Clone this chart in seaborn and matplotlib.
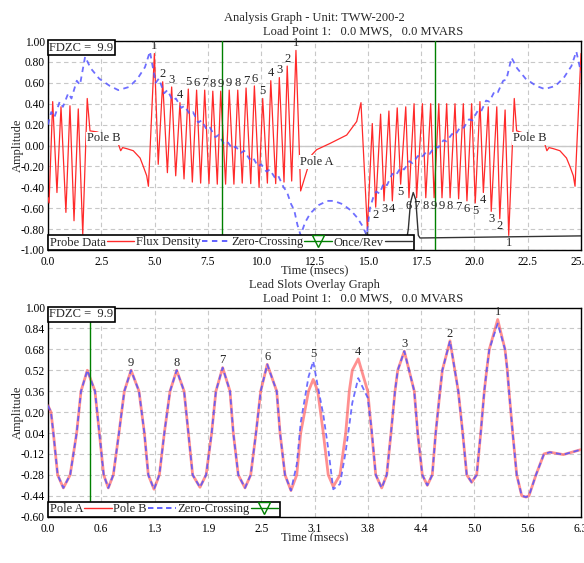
import numpy as np
import pandas as pd
import matplotlib
matplotlib.use("Agg")
import matplotlib.pyplot as plt
import seaborn as sns
from matplotlib.lines import Line2D
from matplotlib.patches import Rectangle

# ---------------- top chart data (Analysis Graph) ----------------
# lead-in of previous pole B and pole-B tail shape
tail_start_t = [0.00, 0.05, 0.22, 0.42, 0.61, 0.84, 1.03, 1.22, 1.42, 1.63, 1.84, 1.97, 2.30,
                3.22, 3.41, 3.50, 3.69, 4.00, 4.32, 4.47, 4.63, 4.71]
tail_start_v = [-0.50, -0.55, 0.42, -0.45, 0.37, -0.64, 0.38, -0.72, 0.35, -0.85, 0.45, 0.14, 0.13,
                0.06, -0.05, -0.02, -0.03, -0.05, -0.12, -0.20, -0.29, -0.39]
# pole A slot peaks (labelled) and the troughs between them
pole_a_peak_t = [4.99, 5.38, 5.80, 6.19, 6.58, 6.97, 7.35, 7.73, 8.10,
                 8.50, 8.90, 9.29, 9.68, 10.07, 10.45, 10.85, 11.22, 11.63]
pole_a_peak_v = [0.88, 0.61, 0.56, 0.41, 0.54, 0.53, 0.53, 0.52, 0.52,
                 0.53, 0.53, 0.55, 0.57, 0.45, 0.62, 0.65, 0.76, 0.91]
pole_a_trough_t = [5.17, 5.60, 5.99, 6.38, 6.77, 7.16, 7.55, 7.94, 8.33,
                   8.72, 9.11, 9.51, 9.90, 10.29, 10.68, 11.07, 11.43, 11.85]
pole_a_trough_v = [-0.18, -0.26, -0.29, -0.32, -0.35, -0.36, -0.365, -0.37, -0.37,
                   -0.37, -0.36, -0.365, -0.40, -0.36, -0.365, -0.35, -0.34, -0.435]
pole_a_tail_t = [12.37, 12.60, 13.23, 14.01, 14.48, 14.68]
pole_a_tail_v = [-0.09, -0.04, 0.02, 0.10, 0.23, 0.41]
# pole B slot troughs (labelled) and the peaks between them
pole_b_trough_t = [14.98, 15.37, 15.76, 16.15, 16.54, 16.93, 17.29, 17.72, 18.11,
                   18.48, 18.86, 19.26, 19.65, 20.04, 20.42, 20.79, 21.19, 21.61]
pole_b_trough_v = [-0.80, -0.59, -0.53, -0.53, -0.37, -0.50, -0.50, -0.50, -0.50,
                   -0.50, -0.50, -0.51, -0.53, -0.55, -0.45, -0.63, -0.70, -0.86]
pole_b_peak_t = [15.21, 15.60, 15.99, 16.38, 16.78, 17.17, 17.56, 17.95, 18.33,
                 18.70, 19.09, 19.48, 19.87, 20.26, 20.65, 21.05, 21.44, 21.87]
pole_b_peak_v = [0.21, 0.30, 0.33, 0.36, 0.37, 0.40, 0.40, 0.40, 0.40,
                 0.40, 0.40, 0.40, 0.40, 0.42, 0.37, 0.37, 0.34, 0.45]
tail_end_t = [21.98, 22.14, 23.23, 23.40, 23.50, 23.70, 24.01, 24.32, 24.48, 24.64, 24.72, 25.00]
tail_end_v = [0.14, 0.13, 0.06, -0.05, -0.02, -0.03, -0.05, -0.12, -0.20, -0.29, -0.39, 0.88]

slot_labels = ["1", "2", "3", "4", "5", "6", "7", "8", "9",
               "9", "8", "7", "6", "5", "4", "3", "2", "1"]

flux_t = [0.00, 0.15, 0.30, 0.55, 0.70, 0.95, 1.10, 1.35, 1.50, 1.74,
          2.00, 2.40, 2.90, 3.30, 3.80, 4.20, 4.55, 4.78,
          5.05, 5.20, 5.45, 5.60, 5.85, 6.00, 6.25, 6.40, 6.65, 6.80, 7.05, 7.20,
          7.45, 7.60, 7.85, 8.00, 8.25, 8.40, 8.65, 8.80, 9.05, 9.20, 9.45, 9.60,
          9.85, 10.00, 10.25, 10.40, 10.65, 10.80, 11.05, 11.20, 11.40, 11.55, 11.70, 11.85,
          12.05, 12.30, 12.70, 13.10, 13.40, 13.80, 14.20, 14.50, 14.75, 14.95,
          15.10, 15.25, 15.40, 15.55, 15.75, 15.90, 16.15, 16.30, 16.55, 16.70,
          16.95, 17.10, 17.35, 17.50, 17.75, 17.90, 18.15, 18.30, 18.55, 18.70,
          18.95, 19.10, 19.35, 19.50, 19.75, 19.90, 20.15, 20.30, 20.55, 20.70,
          20.95, 21.10, 21.35, 21.50, 21.74,
          22.00, 22.40, 22.90, 23.30, 23.80, 24.20, 24.55, 24.78, 25.00]
flux_v = [0.20, 0.32, 0.27, 0.42, 0.37, 0.50, 0.45, 0.62, 0.58, 0.85,
          0.74, 0.64, 0.57, 0.53, 0.56, 0.64, 0.75, 0.90,
          0.60, 0.64, 0.50, 0.53, 0.43, 0.45, 0.36, 0.38, 0.30, 0.32, 0.22, 0.24,
          0.15, 0.17, 0.08, 0.10, 0.02, 0.04, -0.03, -0.01, -0.07, -0.05, -0.13, -0.11,
          -0.20, -0.18, -0.25, -0.23, -0.31, -0.29, -0.40, -0.44, -0.56, -0.62, -0.76, -0.86,
          -0.74, -0.65, -0.57, -0.53, -0.53, -0.56, -0.62, -0.69, -0.77, -0.86,
          -0.60, -0.50, -0.44, -0.46, -0.36, -0.38, -0.27, -0.29, -0.21, -0.23,
          -0.15, -0.17, -0.10, -0.12, -0.06, -0.08, -0.01, -0.02, 0.05, 0.04,
          0.11, 0.10, 0.18, 0.17, 0.25, 0.24, 0.33, 0.32, 0.43, 0.42,
          0.52, 0.51, 0.62, 0.63, 0.84,
          0.74, 0.64, 0.57, 0.54, 0.57, 0.65, 0.76, 0.90, 0.70]

once_rev_t = [0.00, 16.80, 16.90, 17.00, 17.13, 17.25, 17.37, 17.45, 25.00]
once_rev_v = [-0.93, -0.93, -0.80, -0.55, -0.45, -0.52, -0.86, -0.885, -0.865]

zero_cross_top = [8.16, 18.15]

top_xticks = [0.0, 2.5, 5.0, 7.5, 10.0, 12.5, 15.0, 17.5, 20.0, 22.5, 25.0]
top_xlabels = ["0.0", "2.5", "5.0", "7.5", "10.0", "12.5", "15.0", "17.5", "20.0", "22.5", "25.0"]
top_yticks = [-1.0, -0.8, -0.6, -0.4, -0.2, 0.0, 0.2, 0.4, 0.6, 0.8, 1.0]
top_ylabels = ["-1.00", "-0.80", "-0.60", "-0.40", "-0.20", "0.00", "0.20", "0.40", "0.60", "0.80", "1.00"]

# ---------------- bottom chart data (Lead Slots Overlay) ----------------
overlay_t = [0.000, 0.035, 0.063, 0.113, 0.180, 0.260, 0.336, 0.387, 0.461,
             0.551, 0.602, 0.653, 0.707, 0.766, 0.832, 0.895, 0.974,
             1.067, 1.130, 1.176, 1.243, 1.306, 1.364, 1.431, 1.509,
             1.596, 1.646, 1.696, 1.782, 1.854, 1.919, 1.969, 2.048,
             2.134, 2.173, 2.231, 2.310, 2.377, 2.439, 2.494, 2.571,
             2.682, 2.721, 2.779, 2.849, 2.917, 2.963, 3.055, 3.110,
             3.163, 3.228, 3.286, 3.345, 3.424, 3.491, 3.533, 3.568, 3.638,
             3.749, 3.796, 3.843, 3.913, 3.972, 4.022, 4.069, 4.101, 4.178,
             4.295, 4.335, 4.389, 4.448, 4.506, 4.546, 4.597, 4.624, 4.714,
             4.811, 4.863, 4.910, 4.968, 5.027, 5.074, 5.116, 5.144, 5.175, 5.273,
             5.359, 5.386, 5.406, 5.449, 5.496, 5.555, 5.605,
             5.640, 5.722, 5.816, 5.886, 6.043, 6.250]
pole_a_v = [0.25, 0.20, 0.04, -0.28, -0.38, -0.28, 0.04, 0.36, 0.52,
            0.36, 0.04, -0.28, -0.38, -0.28, 0.04, 0.36, 0.52,
            0.36, 0.04, -0.28, -0.39, -0.28, 0.04, 0.36, 0.52,
            0.36, 0.04, -0.28, -0.375, -0.28, 0.04, 0.36, 0.54,
            0.36, 0.04, -0.28, -0.38, -0.28, 0.04, 0.36, 0.565,
            0.36, 0.04, -0.28, -0.40, -0.28, 0.04, 0.36, 0.45,
            0.36, 0.04, -0.28, -0.37, -0.28, 0.04, 0.36, 0.52, 0.607,
            0.36, 0.04, -0.28, -0.38, -0.28, 0.04, 0.36, 0.52, 0.666,
            0.36, 0.04, -0.28, -0.36, -0.28, 0.04, 0.36, 0.52, 0.745,
            0.36, 0.04, -0.28, -0.337, -0.28, 0.04, 0.36, 0.52, 0.68, 0.908,
            0.68, 0.52, 0.36, 0.04, -0.28, -0.44, -0.45,
            -0.44, -0.28, -0.12, -0.107, -0.125, -0.087]
pole_b_v = [0.25, 0.20, 0.04, -0.28, -0.38, -0.28, 0.04, 0.36, 0.52,
            0.36, 0.04, -0.28, -0.38, -0.28, 0.04, 0.36, 0.52,
            0.36, 0.04, -0.28, -0.39, -0.28, 0.04, 0.36, 0.52,
            0.36, 0.04, -0.28, -0.375, -0.28, 0.04, 0.36, 0.54,
            0.36, 0.04, -0.28, -0.38, -0.28, 0.04, 0.36, 0.565,
            0.36, 0.04, -0.28, -0.40, -0.20, 0.12, 0.47, 0.589,
            0.40, 0.18, -0.08, -0.39, -0.35, -0.10, 0.10, 0.27, 0.46,
            0.31, 0.06, -0.28, -0.38, -0.28, 0.04, 0.36, 0.52, 0.666,
            0.36, 0.04, -0.28, -0.36, -0.28, 0.04, 0.36, 0.52, 0.745,
            0.36, 0.04, -0.28, -0.337, -0.28, 0.04, 0.36, 0.52, 0.68, 0.877,
            0.68, 0.52, 0.36, 0.04, -0.28, -0.44, -0.45,
            -0.44, -0.28, -0.12, -0.107, -0.125, -0.087]
overlay_labels = ["9", "8", "7", "6", "5", "4", "3", "2", "1"]
zero_cross_bottom = [0.495]

bot_xticks = [0.0, 0.625, 1.25, 1.875, 2.5, 3.125, 3.75, 4.375, 5.0, 5.625, 6.25]
bot_xlabels = ["0.0", "0.6", "1.3", "1.9", "2.5", "3.1", "3.8", "4.4", "5.0", "5.6", "6.3"]
bot_yticks = [-0.60, -0.44, -0.28, -0.12, 0.04, 0.20, 0.36, 0.52, 0.68, 0.84, 1.00]
bot_ylabels = ["-0.60", "-0.44", "-0.28", "-0.12", "0.04", "0.20", "0.36", "0.52", "0.68", "0.84", "1.00"]

# ---------------- styling ----------------
sns.set_theme(style="white")
plt.rcParams["font.family"] = ["Liberation Serif", "DejaVu Serif"]
plt.rcParams["axes.linewidth"] = 1.0

RED = "#ff2a2a"
BLUE = "#5555ff"
GREEN = "#008000"
GRID = "#c8c8c8"
FS = 9

W, H = 584, 563
fig = plt.figure(figsize=(W / 100, H / 100), dpi=100)
ax1 = fig.add_axes([48 / W, 1 - 250 / H, 533 / W, 209 / H])
ax2 = fig.add_axes([48 / W, 1 - 516.7 / H, 533 / W, 209.2 / H])


def style(ax, xt, xl, yt, yl, xlim, ylim):
    ax.set_xlim(*xlim)
    ax.set_ylim(*ylim)
    ax.set_xticks(xt)
    ax.set_xticklabels(xl)
    ax.set_yticks(yt)
    ax.set_yticklabels(yl)
    ax.tick_params(axis="x", length=0, pad=4.5, labelsize=8.3, colors="black")
    ax.tick_params(axis="y", length=0, pad=2.2, labelsize=8.3, colors="black")
    ax.grid(True, color=GRID, linestyle=(0, (4, 3)), linewidth=0.8)
    ax.set_axisbelow(True)
    for s in ax.spines.values():
        s.set_color("black")
        s.set_linewidth(1.0)
    ax.set_xlabel("Time (msecs)", fontsize=FS)
    ax.set_ylabel("Amplitude", fontsize=FS)
    ax.xaxis.set_label_coords(0.5, -0.075)
    ax.yaxis.set_label_coords(-0.045, 0.5)
    ax.text(0.002, 0.997, "FDZC =  9.9", transform=ax.transAxes, ha="left", va="top",
            fontsize=FS, zorder=20,
            bbox=dict(boxstyle="square,pad=0.12", fc="white", ec="black", lw=1.2))


# ---- top chart
probe = pd.concat([
    pd.DataFrame({"t": tail_start_t, "v": tail_start_v}),
    pd.DataFrame({"t": pole_a_peak_t, "v": pole_a_peak_v}),
    pd.DataFrame({"t": pole_a_trough_t, "v": pole_a_trough_v}),
    pd.DataFrame({"t": pole_a_tail_t, "v": pole_a_tail_v}),
    pd.DataFrame({"t": pole_b_trough_t, "v": pole_b_trough_v}),
    pd.DataFrame({"t": pole_b_peak_t, "v": pole_b_peak_v}),
    pd.DataFrame({"t": tail_end_t, "v": tail_end_v}),
]).sort_values("t").reset_index(drop=True)

ax1.axhline(0, color=GRID, lw=1.0, zorder=0.5)
sns.lineplot(data=probe, x="t", y="v", ax=ax1, sort=False, estimator=None,
             color=RED, lw=0.9, zorder=3)
sns.lineplot(x=flux_t, y=flux_v, ax=ax1, sort=False, estimator=None,
             color=BLUE, lw=1.3, alpha=0.85, zorder=3.5)
ax1.lines[-1].set_dashes([3, 2.5])
sns.lineplot(x=once_rev_t, y=once_rev_v, ax=ax1, sort=False, estimator=None,
             color="#333333", lw=1.0, zorder=3)
for zc in zero_cross_top:
    ax1.axvline(zc, color=GREEN, lw=1.0, zorder=4)

for t, v, s in zip(pole_a_peak_t, pole_a_peak_v, slot_labels):
    ax1.text(t, v + 0.07, s, ha="center", va="center", fontsize=FS, zorder=5)
for t, v, s in zip(pole_b_trough_t, pole_b_trough_v, slot_labels):
    ax1.text(t, v - 0.075, s, ha="center", va="center", fontsize=FS, zorder=5)

lbl_box = dict(fc="white", ec="none", pad=0.6)
ax1.text(1.83, 0.067, "Pole B", ha="left", va="center", fontsize=FS, bbox=lbl_box, zorder=6)
ax1.text(21.81, 0.067, "Pole B", ha="left", va="center", fontsize=FS, bbox=lbl_box, zorder=6)
ax1.text(11.82, -0.16, "Pole A", ha="left", va="center", fontsize=FS, bbox=lbl_box, zorder=6)

style(ax1, top_xticks, top_xlabels, top_yticks, top_ylabels, (0, 25), (-1, 1))

h1 = [Line2D([], [], color=RED, lw=1.0),
      Line2D([], [], color=BLUE, lw=1.3, dashes=[3, 2.5]),
      Line2D([], [], color=GREEN, lw=1.0, marker="v", markersize=8,
             markerfacecolor="none", markeredgecolor=GREEN),
      Line2D([], [], color="#333333", lw=1.0)]
leg1 = ax1.legend(h1, ["Probe Data", "Flux Density", "Zero-Crossing", "Once/Rev"],
                  loc="lower left", bbox_to_anchor=(0, 0), ncol=4, markerfirst=False,
                  fancybox=False, edgecolor="black", framealpha=1, fontsize=FS,
                  borderpad=0.12, handlelength=2.2, handletextpad=0.1,
                  columnspacing=0.12, borderaxespad=0)
leg1.get_frame().set_linewidth(1.2)
leg1.set_zorder(15)

# ---- bottom chart
sns.lineplot(x=overlay_t, y=pole_a_v, ax=ax2, sort=False, estimator=None,
             color="#ff5555", lw=2.0, alpha=0.65, zorder=3)
sns.lineplot(x=overlay_t, y=pole_b_v, ax=ax2, sort=False, estimator=None,
             color=BLUE, lw=1.3, alpha=0.85, zorder=3.5)
ax2.lines[-1].set_dashes([3, 2])
for zc in zero_cross_bottom:
    ax2.axvline(zc, color=GREEN, lw=1.0, zorder=4)

peak_idx = [i for i in range(1, len(pole_a_v) - 1)
            if pole_a_v[i] > pole_a_v[i - 1] and pole_a_v[i] >= pole_a_v[i + 1] and pole_a_v[i] > 0.3]
for i, s in zip(peak_idx[1:], overlay_labels):
    top = max(pole_a_v[i], pole_b_v[i])
    ax2.text(overlay_t[i], top + 0.055, s, ha="center", va="center", fontsize=FS, zorder=5)

style(ax2, bot_xticks, bot_xlabels, bot_yticks, bot_ylabels, (0, 6.25), (-0.60, 1.00))

h2 = [Line2D([], [], color=RED, lw=1.0),
      Line2D([], [], color=BLUE, lw=1.3, dashes=[3, 2]),
      Line2D([], [], color=GREEN, lw=1.0, marker="v", markersize=8,
             markerfacecolor="none", markeredgecolor=GREEN)]
leg2 = ax2.legend(h2, ["Pole A", "Pole B", "Zero-Crossing"],
                  loc="lower left", bbox_to_anchor=(0, 0), ncol=3, markerfirst=False,
                  fancybox=False, edgecolor="black", framealpha=1, fontsize=FS,
                  borderpad=0.12, handlelength=2.2, handletextpad=0.1,
                  columnspacing=0.12, borderaxespad=0)
leg2.get_frame().set_linewidth(1.2)
leg2.set_zorder(15)

# ---- titles
fig.text(314.5 / W, 1 - 18.3 / H, "Analysis Graph - Unit: TWW-200-2", ha="center", va="center", fontsize=FS)
fig.text(263 / W, 1 - 31.7 / H, "Load Point 1:   0.0 MWS,   0.0 MVARS", ha="left", va="center", fontsize=FS)
fig.text(314.5 / W, 1 - 285 / H, "Lead Slots Overlay Graph", ha="center", va="center", fontsize=FS)
fig.text(263 / W, 1 - 298.3 / H, "Load Point 1:   0.0 MWS,   0.0 MVARS", ha="left", va="center", fontsize=FS)

# bottom strip of the original is cut off
fig.add_artist(Rectangle((0, 0), 1, 22 / H, transform=fig.transFigure, fc="white", ec="none", zorder=30))

fig.savefig("out.png", dpi=100)
